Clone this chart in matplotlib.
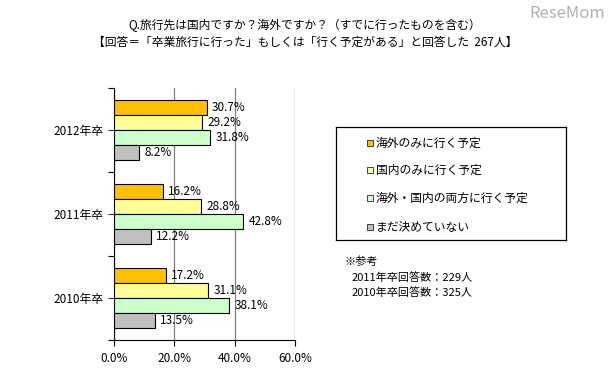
import matplotlib.pyplot as plt
import numpy as np

plt.rcParams['font.family'] = ['Noto Sans CJK JP', 'DejaVu Sans']

# data
years = ['2012年卒', '2011年卒', '2010年卒']
series = ['海外のみに行く予定', '国内のみに行く予定', '海外・国内の両方に行く予定', 'まだ決めていない']
values = [
    [30.7, 16.2, 17.2],   # 海外のみ
    [29.2, 28.8, 31.1],   # 国内のみ
    [31.8, 42.8, 38.1],   # 両方
    [8.2, 12.2, 13.5],    # 未定
]
colors = ['#FFC000', '#FFFF99', '#CCFFCC', '#C0C0C0']
xticks = [0, 20, 40, 60]
notes = ['※参考', '2011年卒回答数：229人', '2010年卒回答数：325人']

W, H = 612, 380
fig = plt.figure(figsize=(W / 100, H / 100), dpi=100)

fig.text(305 / W, 1 - 25 / H, 'Q.旅行先は国内ですか？海外ですか？（すでに行ったものを含む）',
         ha='center', va='center', fontsize=8.5)
fig.text(305 / W, 1 - 42 / H, '【回答＝「卒業旅行に行った」もしくは「行く予定がある」と回答した  267人】',
         ha='center', va='center', fontsize=8.5)
fig.text(605 / W, 1 - 14 / H, 'ReseMom', ha='right', va='center', fontsize=12, color='#B0B0B0')

# main bar chart
ax = fig.add_axes([114 / W, 1 - 340 / H, 181 / W, 252 / H])
centers = np.arange(len(years)) + 0.5
bh = 0.18
offsets = [-0.27, -0.09, 0.09, 0.27]
for i, s in enumerate(series):
    y = centers + offsets[i]
    ax.barh(y, values[i], height=bh, color=colors[i], edgecolor='black', linewidth=0.8, zorder=3)
    for yy, v in zip(y, values[i]):
        ax.text(v + 1.8, yy, f'{v:.1f}%', va='center', ha='left', fontsize=8.5, zorder=4)

ax.set_xlim(0, 60)
ax.set_ylim(3, 0)
ax.set_xticks(xticks)
ax.set_xticklabels([f'{t:.1f}%' for t in xticks], fontsize=8.5)
ax.set_yticks([0, 1, 2, 3])
ax.set_yticklabels([])
ax.set_yticks(centers, minor=True)
ax.set_yticklabels(years, minor=True, fontsize=8.5)
ax.tick_params(axis='y', which='both', length=4, direction='out', color='black')
ax.tick_params(axis='x', length=4, direction='out', color='black', pad=5)
ax.grid(axis='x', color='#808080', linewidth=0.9, zorder=0)
ax.spines['top'].set_visible(False)
ax.spines['right'].set_visible(False)
ax.spines['left'].set_color('black')
ax.spines['bottom'].set_color('black')

# legend box
lg = fig.add_axes([336 / W, 1 - 240 / H, 230 / W, 113 / H])
lg.set_xlim(0, 230)
lg.set_ylim(113, 0)
lg.set_xticks([])
lg.set_yticks([])
for sp in lg.spines.values():
    sp.set_color('black')
    sp.set_linewidth(0.9)
rows = [16, 43, 71, 100]
for s, c, ry in zip(series, colors, rows):
    lg.scatter([34], [ry], marker='s', s=18, color=c, edgecolor='#404040', linewidth=0.7)
    lg.text(40, ry, s, va='center', ha='left', fontsize=8.5)

# reference notes
fig.text(345 / W, 1 - 262 / H, notes[0], va='center', ha='left', fontsize=8)
fig.text(352 / W, 1 - 278 / H, notes[1], va='center', ha='left', fontsize=8)
fig.text(352 / W, 1 - 293 / H, notes[2], va='center', ha='left', fontsize=8)

fig.savefig('out.png', dpi=100)
